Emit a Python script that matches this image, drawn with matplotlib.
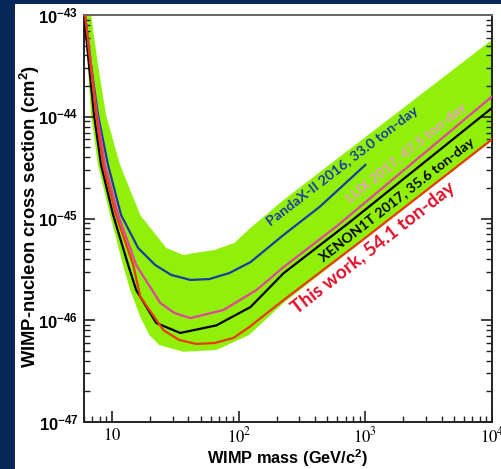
import numpy as np
import matplotlib
matplotlib.use("Agg")
import matplotlib.pyplot as plt
from matplotlib.patches import Rectangle
from matplotlib.ticker import LogLocator, NullFormatter

plt.rcParams['mathtext.fontset'] = 'custom'
plt.rcParams['mathtext.rm'] = 'Liberation Sans'
plt.rcParams['mathtext.bf'] = 'Liberation Sans:bold'

# ---- data ----
pandax_mass = [6.11, 6.82, 7.74, 9.29, 11.78, 16.06, 21.9, 29.3, 41.5, 58.6, 84.4, 124,
               226, 435, 1000]
pandax_xs = [1e-43, 3.23e-44, 1.04e-44, 3.36e-45, 1.08e-45, 5.13e-46, 3.49e-46, 2.79e-46,
             2.49e-46, 2.54e-46, 2.91e-46, 3.73e-46, 6.9e-46, 1.30e-45, 3.36e-45]

lux_mass = [6.11, 7.6, 8.8, 11.2, 15.5, 24.0, 31.0, 41.5, 75.7, 138, 226, 594, 10000]
lux_xs = [1e-43, 1.04e-44, 3.36e-45, 1.08e-45, 3.49e-46, 1.48e-46, 1.18e-46, 1.05e-46,
          1.26e-46, 1.98e-46, 3.33e-46, 8.4e-46, 1.58e-44]

xenon_mass = [6.0, 7.2, 8.19, 10.2, 13.4, 15.5, 22.3, 34.5, 66.6, 124, 226, 752, 10000]
xenon_xs = [1e-43, 1.04e-44, 3.36e-45, 1.08e-45, 3.49e-46, 1.98e-46, 9.4e-47, 7.5e-47,
            8.9e-47, 1.35e-46, 2.9e-46, 9.2e-46, 1.22e-44]

this_mass = [6.11, 7.47, 8.49, 10.75, 14.7, 16.7, 25.4, 33.9, 46.3, 64.3, 90.8, 121.6,
             226, 952, 10000]
this_xs = [1e-43, 1.04e-44, 3.36e-45, 1.08e-45, 3.49e-46, 1.7e-46, 8.0e-47, 6.4e-47,
           5.85e-47, 5.97e-47, 6.7e-47, 8.6e-47, 1.58e-46, 6.15e-46, 6.0e-45]

band_up_mass = [6.82, 7.74, 8.96, 11.57, 16.7, 26.8, 36.5, 44.6, 64.3, 92.5, 124, 226,
                10000]
band_up_xs = [1e-43, 3.23e-44, 1.04e-44, 3.36e-45, 1.08e-45, 5.13e-46, 4.37e-46, 4.58e-46,
              4.9e-46, 5.75e-46, 8.1e-46, 1.52e-45, 5.7e-44]

band_lo_mass = [6.0, 6.82, 7.74, 9.64, 12.2, 13.9, 16.7, 19.6, 23.6, 36.5, 66.6, 121.6,
                226, 952, 10000]
band_lo_xs = [1.2e-43, 1.04e-44, 3.36e-45, 1.08e-45, 3.49e-46, 1.98e-46, 1.08e-46, 7.2e-47,
              5.7e-47, 4.9e-47, 5.1e-47, 7.2e-47, 1.48e-46, 6.0e-46, 5.8e-45]

xticks = [10, 100, 1000, 10000]
xtick_labels = [r'$10$', r'$10^{2}$', r'$10^{3}$', r'$10^{4}$']
yticks = [1e-47, 1e-46, 1e-45, 1e-44, 1e-43]
ytick_labels = [r'$\mathbf{10^{-47}}$', r'$\mathbf{10^{-46}}$', r'$\mathbf{10^{-45}}$',
                r'$\mathbf{10^{-44}}$', r'$\mathbf{10^{-43}}$']

labels = ["PandaX-II 2016, 33.0 ton-day", "LUX 2017, 47.5 ton-day",
          "XENON1T 2017, 35.6 ton-day", "This work, 54.1 ton-day"]

# ---- figure ----
W, H = 502, 469
fig = plt.figure(figsize=(W / 100, H / 100), dpi=100, facecolor='#08285a')
fig.patches.append(Rectangle((15 / W, 0), 1 - 15 / W, (H - 4) / H,
                             transform=fig.transFigure, facecolor='white',
                             edgecolor='none', zorder=-10))
ax = fig.add_axes([84 / W, (H - 422) / H, (492 - 84) / W, (422 - 15) / H])
ax.set_facecolor('white')
ax.set_xscale('log')
ax.set_yscale('log')
ax.set_xlim(6, 1e4)
ax.set_ylim(1e-47, 1e-43)

band_x = list(band_up_mass) + list(band_lo_mass[::-1])
band_y = list(band_up_xs) + list(band_lo_xs[::-1])
ax.fill(band_x, band_y, color='#90f00a', lw=0, zorder=1)

kw = dict(lw=1.6, zorder=3, solid_joinstyle='round')
ax.plot(pandax_mass, pandax_xs, color='#1c3c9e', **kw)
ax.plot(lux_mass, lux_xs, color='#e0449c', **kw)
ax.plot(xenon_mass, xenon_xs, color='black', **kw)
ax.plot(this_mass, this_xs, color='#e83a14', **kw)

def place(text, px, py, ang, color, size):
    m = 10 ** (1 + (px - 113) / 126.3)
    s = 10 ** (-43 - (py - 15) / 101.75)
    ax.text(m, s, text, rotation=ang, rotation_mode='anchor', ha='left', va='baseline',
            color=color, fontsize=size, fontweight='bold', family='Lato', zorder=4)

place(labels[0], 271, 226, 37.5, '#1c3c9e', 10.3)
place(labels[1], 351, 203, 39, '#eea0c0', 10.2)
place(labels[2], 324, 262, 38, 'black', 10.3)
place(labels[3], 298, 315, 38, '#e0102a', 13.8)

ax.set_xticks(xticks, xtick_labels)
ax.set_yticks(yticks, ytick_labels)
ax.xaxis.set_minor_locator(LogLocator(base=10, subs=np.arange(2, 10)))
ax.yaxis.set_minor_locator(LogLocator(base=10, subs=np.arange(2, 10), numticks=20))
ax.xaxis.set_minor_formatter(NullFormatter())
ax.yaxis.set_minor_formatter(NullFormatter())
ax.tick_params(which='both', direction='in', top=False, right=True, color='#222222')
ax.tick_params(which='major', length=8, width=1.2)
ax.tick_params(which='minor', length=4.5, width=1.0)
ax.tick_params(axis='x', which='major', labelsize=12, pad=3)
ax.tick_params(axis='y', which='major', labelsize=12, pad=4)
for t in ax.get_xticklabels():
    t.set_math_fontfamily('stix')

for s in ['left', 'bottom', 'right']:
    ax.spines[s].set_linewidth(1.4)
    ax.spines[s].set_color('#222222')
ax.spines['top'].set_color('#666666')
ax.spines['top'].set_linewidth(1.4)

ax.set_xlabel('WIMP mass (GeV/c$^{\\mathbf{2}}$)', fontsize=11.8, fontweight='bold',
              family='Liberation Sans', va='center')
ax.xaxis.set_label_coords(0.5, (422 - 458) / 407)
ax.set_ylabel('WIMP-nucleon cross section (cm$^{\\mathbf{2}}$)', fontsize=13.2,
              fontweight='bold', family='Liberation Sans', va='center')
ax.yaxis.set_label_coords((30 - 84) / 408, (422 - 216) / 407)

fig.savefig('out.png', dpi=100, facecolor=fig.get_facecolor())
